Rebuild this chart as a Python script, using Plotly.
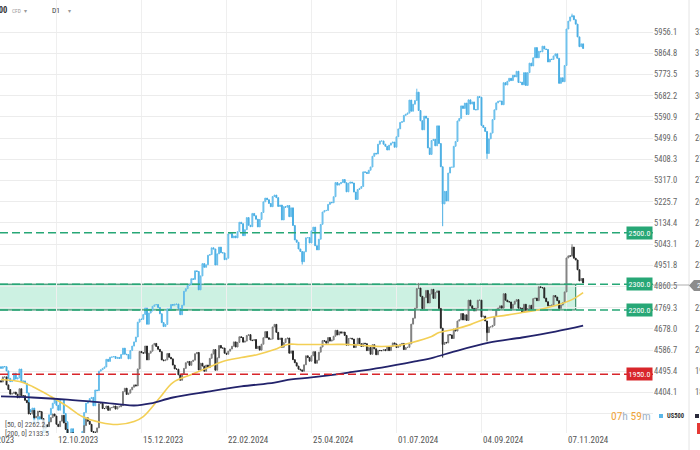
import plotly.graph_objects as go

# ---------------- data ----------------
us500_close = [
    4508,
    4516, 4515, 4497, 4465, 4451, 4457, 4487, 4462, 4467, 4505, 4450, 4454, 4444, 4402, 4330, 4320, 4337, 4274, 4275, 4300, 4288,
    4288, 4229, 4263, 4258, 4308, 4336, 4358, 4377, 4349, 4328, 4373, 4373, 4314, 4278, 4224, 4217, 4248, 4186, 4137, 4117, 4167, 4194,
    4237, 4318, 4358, 4366, 4378, 4383, 4347, 4415, 4412, 4496, 4502, 4508, 4514, 4547, 4538, 4556, 4557, 4559, 4551, 4555, 4551, 4568,
    4595, 4569, 4567, 4549, 4585, 4604, 4622, 4643, 4707, 4720, 4719, 4740, 4768, 4698, 4746, 4755, 4775, 4781, 4783, 4770,
    4743, 4705, 4688, 4697, 4764, 4757, 4783, 4780, 4784, 4785, 4766, 4739, 4780, 4840, 4851, 4865, 4869, 4894, 4891, 4928, 4925, 4846,
    4906, 4959, 4943, 4954, 4995, 4998, 5027, 5022, 4953, 5001, 5030, 5006, 5005, 4976, 4982, 5087, 5089, 5070, 5078, 5070, 5096,
    5137, 5131, 5079, 5105, 5157, 5124, 5118, 5175, 5165, 5150, 5117, 5149, 5179, 5225, 5241, 5234, 5218, 5204, 5248, 5254,
    5243, 5205, 5211, 5147, 5204, 5202, 5209, 5161, 5199, 5123, 5061, 5051, 5022, 5011, 4967, 5010, 5070, 5071, 5048, 5100, 5116, 5036,
    5018, 5064, 5128, 5181, 5187, 5188, 5214, 5223, 5221, 5247, 5308, 5297, 5303, 5308, 5321, 5307, 5268, 5305, 5310, 5306, 5267, 5235, 5278,
    5283, 5291, 5354, 5352, 5347, 5361, 5375, 5421, 5434, 5431, 5473, 5487, 5487, 5473, 5464, 5448, 5469, 5478, 5482, 5460,
    5505, 5539, 5567, 5570, 5597, 5602, 5607, 5663, 5615, 5645, 5661, 5697, 5618, 5574, 5535, 5594, 5585, 5457, 5429, 5489, 5494, 5466, 5552,
    5476, 5376, 5216, 5270, 5229, 5349, 5374, 5374, 5464, 5485, 5573, 5584, 5638, 5627, 5650, 5601, 5664, 5646, 5655, 5622, 5621, 5678,
    5675, 5554, 5545, 5528, 5433, 5496, 5521, 5579, 5621, 5651, 5658, 5659, 5643, 5738, 5728, 5744, 5757, 5747, 5770, 5763, 5787,
    5739, 5740, 5729, 5781, 5726, 5781, 5822, 5810, 5845, 5889, 5845, 5873, 5871, 5895, 5883, 5881, 5827, 5839, 5838, 5853, 5862, 5843, 5735,
    5759, 5742, 5812, 5969, 6003, 6021, 6026, 6009, 5990, 5935, 5893, 5905, 5885,
]
us500_first_open = 4515
us500_wick_high = {225: 5712, 309: 6035}
us500_wick_low = {239: 5120, 163: 4955, 263: 5410}

us2000_close = [
    1920,
    1940, 1940, 1909, 1891, 1873, 1876, 1881, 1873, 1859, 1894, 1867, 1867, 1849, 1840, 1796, 1796, 1810, 1781, 1787, 1807, 1805,
    1778, 1741, 1754, 1747, 1765, 1782, 1796, 1788, 1756, 1747, 1768, 1791, 1761, 1736, 1713, 1702, 1723, 1699, 1671, 1656, 1676, 1682,
    1701, 1751, 1781, 1768, 1756, 1728, 1725, 1725, 1742, 1836, 1837, 1817, 1817, 1827, 1810, 1820, 1821, 1827, 1815, 1824, 1824, 1829,
    1883, 1896, 1872, 1877, 1890, 1900, 1909, 1905, 1971, 2039, 2034, 2032, 2060, 2006, 2032, 2040, 2064, 2070, 2058, 2047,
    2038, 2006, 2003, 2006, 2031, 2016, 2010, 1986, 1971, 1970, 1948, 1927, 1952, 1973, 1995, 2000, 1985, 2000, 2005, 2030, 2035, 1967,
    1993, 1982, 1962, 1986, 1976, 2012, 2029, 2046, 1966, 2014, 2062, 2052, 2052, 2032, 2028, 2040, 2048, 2059, 2076, 2056, 2074,
    2096, 2093, 2075, 2079, 2101, 2104, 2083, 2081, 2085, 2050, 2059, 2044, 2067, 2092, 2116, 2092, 2086, 2087, 2134, 2144,
    2113, 2085, 2091, 2055, 2073, 2088, 2091, 2032, 2041, 2007, 1995, 1982, 1970, 1967, 1962, 1987, 2022, 2015, 2001, 2022, 2038, 1993,
    2005, 2036, 2056, 2081, 2079, 2071, 2093, 2079, 2083, 2098, 2121, 2103, 2115, 2110, 2114, 2101, 2063, 2089, 2090, 2087, 2054, 2067, 2090,
    2069, 2058, 2071, 2069, 2042, 2054, 2028, 2065, 2049, 2026, 2043, 2042, 2042, 2046, 2042, 2056, 2042, 2059, 2072, 2068,
    2054, 2059, 2067, 2070, 2046, 2054, 2055, 2068, 2145, 2168, 2207, 2283, 2285, 2253, 2205, 2248, 2276, 2227, 2262, 2280, 2245, 2268, 2274,
    2206, 2129, 2066, 2074, 2072, 2104, 2103, 2089, 2126, 2118, 2157, 2162, 2186, 2161, 2181, 2159, 2238, 2216, 2206, 2196, 2207, 2238,
    2238, 2173, 2176, 2157, 2112, 2134, 2134, 2140, 2175, 2203, 2207, 2216, 2207, 2263, 2238, 2232, 2231, 2206, 2222, 2234, 2240,
    2207, 2207, 2192, 2222, 2199, 2205, 2218, 2204, 2244, 2246, 2236, 2290, 2287, 2286, 2246, 2232, 2216, 2217, 2219, 2256, 2250, 2236, 2206,
    2219, 2228, 2270, 2402, 2410, 2409, 2444, 2401, 2394, 2356, 2313, 2322, 2305,
]
us2000_first_open = 1925
us2000_wick_high = {226: 2305, 309: 2455}
us2000_wick_low = {239: 2015, 263: 2078}

# moving averages of US2000 (read at sample bars)
ma50_bars = [0, 10, 17, 27, 36, 44, 54, 63, 72, 77, 86, 93, 103, 112, 120, 130, 139, 148, 155, 161, 169, 179, 188,
             196, 206, 215, 222, 233, 237, 245, 254, 264, 272, 282, 291, 300, 309, 315]
ma50_vals = [1930, 1922, 1903, 1864, 1825, 1786, 1763, 1755, 1767, 1786, 1860, 1918, 1949, 1976, 2000, 2015, 2027, 2046, 2066, 2066,
             2066, 2066, 2066, 2062, 2058, 2062, 2073, 2097, 2112, 2124, 2143, 2170, 2178, 2190, 2201, 2217, 2240, 2267]
ma200_bars = [0, 17, 36, 54, 72, 81, 93, 112, 130, 148, 157, 168, 188, 206, 224, 234, 245, 264, 282, 300, 315]
ma200_vals = [1864, 1860, 1852, 1841, 1829, 1837, 1860, 1883, 1903, 1918, 1930, 1938, 1957, 1976, 2000, 2015, 2038, 2073, 2093, 2116, 2139]

# levels (US2000 scale)
zone_low, zone_high = 2200, 2300
zone_end_bar = 311
level_lines = [(2500, "#27a776", "2500.0"), (2300, "#27a776", "2300.0"), (2200, "#27a776", "2200.0"), (1950, "#d8262b", "1950.0")]

# axis ticks
date_tick_bars = [30, 76, 122, 168, 214, 260, 306]
date_tick_text = ["12.10.2023", "15.12.2023", "22.02.2024", "25.04.2024", "01.07.2024", "04.09.2024", "07.11.2024"]
first_date_text = "09.08.2023"
price_ticks = ["5956.1", "5864.8", "5773.5", "5682.2", "5590.9", "5499.6", "5408.3", "5317.0", "5225.7",
               "5134.4", "5043.1", "4951.8", "4860.5", "4769.3", "4678.0", "4586.7", "4495.4", "4404.1"]
price_ticks2 = ["3279.4", "3197.1", "3114.8", "3032.4", "2950.1", "2867.8", "2785.4", "2703.1", "2620.8",
                "2538.1", "2455.7", "2373.4", "", "2208.7", "2126.4", "2044.1", "1961.7", "1879.4"]
price_ticks2_vals = [3279.4, 3197.1, 3114.8, 3032.4, 2950.1, 2867.8, 2785.4, 2703.1, 2620.8,
                     2538.1, 2455.7, 2373.4, 2291.1, 2208.7, 2126.4, 2044.1, 1961.7, 1879.4]
ma_legend = ["[50, 0] 2262.2", "[200, 0] 2133.5"]

# ---------------- figure ----------------
W, H = 700, 450
PLOT_W, PLOT_H = 653, 433
FONT = "Liberation Sans Narrow, Roboto Condensed, Arial Narrow, Roboto, sans-serif"


def build_ohlc(first_open, closes, wick_hi, wick_lo):
    opens = [first_open] + closes[:-1]
    highs = [max(o, c) for o, c in zip(opens, closes)]
    lows = [min(o, c) for o, c in zip(opens, closes)]
    for i, v in wick_hi.items():
        highs[i] = max(highs[i], v)
    for i, v in wick_lo.items():
        lows[i] = min(lows[i], v)
    return opens, highs, lows


fig = go.Figure()

o, h, l = build_ohlc(us2000_first_open, us2000_close, us2000_wick_high, us2000_wick_low)
fig.add_trace(go.Candlestick(
    x=list(range(len(us2000_close))), open=o, high=h, low=l, close=us2000_close, yaxis="y2",
    increasing=dict(line=dict(color="#7a7a7a", width=1), fillcolor="#a6a6a6"),
    decreasing=dict(line=dict(color="#262626", width=1), fillcolor="#262626"),
    whiskerwidth=0, hoverinfo="skip", name="US2000"))

o, h, l = build_ohlc(us500_first_open, us500_close, us500_wick_high, us500_wick_low)
fig.add_trace(go.Candlestick(
    x=list(range(len(us500_close))), open=o, high=h, low=l, close=us500_close, yaxis="y",
    increasing=dict(line=dict(color="#66bdea", width=1), fillcolor="#8fd0f2"),
    decreasing=dict(line=dict(color="#4aaee3", width=1), fillcolor="#4aaee3"),
    whiskerwidth=0, hoverinfo="skip", name="US500"))

fig.add_trace(go.Scatter(x=ma50_bars, y=ma50_vals, yaxis="y2", mode="lines",
                         line=dict(color="#f3cf55", width=1.6, shape="spline", smoothing=1.0), hoverinfo="skip"))
fig.add_trace(go.Scatter(x=ma200_bars, y=ma200_vals, yaxis="y2", mode="lines",
                         line=dict(color="#23236b", width=1.8, shape="spline", smoothing=1.0), hoverinfo="skip"))

shapes = []
# zone rectangle
shapes.append(dict(type="rect", xref="x", yref="y2", x0=-2, x1=zone_end_bar, y0=zone_low, y1=zone_high,
                   fillcolor="rgba(40,195,135,0.24)", line=dict(color="#1f7a55", width=1), layer="below"))
annotations = []
for val, col, txt in level_lines:
    shapes.append(dict(type="line", xref="x domain", yref="y2", x0=0, x1=1, y0=val, y1=val,
                       line=dict(color=col, width=1.6, dash="8px,4px")))
    annotations.append(dict(xref="paper", yref="y2", x=PLOT_W / W, y=val, xanchor="right", yanchor="middle",
                            text=txt, showarrow=False, bgcolor=col, borderpad=1.5,
                            font=dict(family=FONT, size=8, color="white")))

# current price tag / separator (paper coords)
def py(p):
    return (PLOT_H - p) / PLOT_H

shapes.append(dict(type="line", xref="paper", yref="paper", x0=689 / W, x1=689 / W, y0=py(450), y1=py(0),
                   line=dict(color="#e4e4e4", width=1)))
shapes.append(dict(type="line", xref="paper", yref="paper", x0=PLOT_W / W, x1=689 / W, y0=py(285), y1=py(285),
                   line=dict(color="#9a9a9a", width=0.8)))
shapes.append(dict(type="path", xref="paper", yref="paper",
                   path=f"M {689/W} {py(285.5)} L {694/W} {py(280)} L {702/W} {py(280)} L {702/W} {py(291)} L {694/W} {py(291)} Z",
                   fillcolor="#8c8c8c", line=dict(width=0)))
annotations.append(dict(xref="paper", yref="paper", x=695 / W, y=py(285.5), xanchor="left", yanchor="middle",
                        text="2305.0", showarrow=False, font=dict(family=FONT, size=8, color="white")))

# legend squares bottom right
shapes.append(dict(type="rect", xref="paper", yref="paper", x0=659 / W, x1=663 / W, y0=py(418), y1=py(414),
                   fillcolor="#5bb7e8", line=dict(width=0)))
shapes.append(dict(type="rect", xref="paper", yref="paper", x0=695 / W, x1=699 / W, y0=py(418), y1=py(414),
                   fillcolor="#2a2a3a", line=dict(width=0)))
shapes.append(dict(type="rect", xref="paper", yref="paper", x0=697 / W, x1=704 / W, y0=py(434), y1=py(423),
                   fillcolor="#e53935", line=dict(width=0)))
annotations.append(dict(xref="paper", yref="paper", x=665 / W, y=py(416), xanchor="left", yanchor="middle",
                        text="<b>US500</b>", showarrow=False, font=dict(family=FONT, size=6.5, color="#333")))

# countdown
annotations.append(dict(xref="paper", yref="paper", x=PLOT_W / W, y=py(416), xanchor="right", yanchor="middle",
                        text="<span style='color:#f0a53a'>07</span><span style='color:#9fb3c8'>h</span> "
                             "<span style='color:#f0a53a'>59</span><span style='color:#9fb3c8'>m</span>",
                        showarrow=False, font=dict(family=FONT, size=11.5)))

# MA legend bottom-left
for i, txt in enumerate(ma_legend):
    annotations.append(dict(xref="paper", yref="paper", x=4 / W, y=py(424 + 9 * i), xanchor="left", yanchor="middle",
                            text=txt, showarrow=False, bgcolor="rgba(255,255,255,0.75)", borderpad=0,
                            font=dict(family=FONT, size=7.5, color="#555")))

# date labels (left aligned at grid lines)
for b, txt in zip(date_tick_bars, date_tick_text):
    annotations.append(dict(xref="x", yref="paper", x=b, y=py(440), xanchor="left", yanchor="middle",
                            text=txt, showarrow=False, font=dict(family=FONT, size=9, color="#555")))
annotations.append(dict(xref="paper", yref="paper", x=-28.5 / W, y=py(440), xanchor="left", yanchor="middle",
                        text=first_date_text, showarrow=False, font=dict(family=FONT, size=9, color="#555")))

# toolbar
annotations += [
    dict(xref="paper", yref="paper", x=9 / W, y=py(10), xanchor="right", yanchor="middle", text="<b>US500</b>",
         showarrow=False, font=dict(family=FONT, size=8.5, color="#333")),
    dict(xref="paper", yref="paper", x=10 / W, y=py(10.5), xanchor="left", yanchor="middle", text="CFD",
         showarrow=False, font=dict(family=FONT, size=5.5, color="#999")),
    dict(xref="paper", yref="paper", x=22 / W, y=py(10), xanchor="left", yanchor="middle", text="▾",
         showarrow=False, font=dict(family=FONT, size=6, color="#999")),
    dict(xref="paper", yref="paper", x=50 / W, y=py(10), xanchor="left", yanchor="middle", text="D1",
         showarrow=False, font=dict(family=FONT, size=7.5, color="#444")),
    dict(xref="paper", yref="paper", x=66 / W, y=py(10), xanchor="left", yanchor="middle", text="▾",
         showarrow=False, font=dict(family=FONT, size=6, color="#999")),
]

# axis ranges (pixel calibration)
px_per_bar = 1.848
x_range = [-1 / px_per_bar, (PLOT_W - 1) / px_per_bar]
k1 = 360.5 / 1552.0
y1_range = [5956.1 - (PLOT_H - 32) / k1, 5956.1 + 32 / k1]
k2 = 0.2575
y2_range = [2300 - (PLOT_H - 284.2) / k2, 2300 + 284.2 / k2]

fig.update_layout(
    template="none",
    width=W, height=H,
    margin=dict(l=0, r=0, t=0, b=H - PLOT_H, pad=0),
    paper_bgcolor="white", plot_bgcolor="white",
    showlegend=False,
    font=dict(family=FONT, size=9, color="#666"),
    xaxis=dict(domain=[0, PLOT_W / W], range=x_range, tickvals=date_tick_bars, showticklabels=False,
               showgrid=True, gridcolor="#efefef", gridwidth=1, zeroline=False, showline=False, ticks="",
               rangeslider=dict(visible=False), automargin=False, fixedrange=True),
    yaxis=dict(side="right", anchor="x", range=y1_range, tickvals=[float(t) for t in price_ticks] + [4312.8],
               ticktext=price_ticks + [""], showgrid=True, gridcolor="#ececec", gridwidth=1, zeroline=False,
               showline=False, ticks="", tickfont=dict(family=FONT, size=8.5, color="#666"), automargin=False,
               fixedrange=True),
    yaxis2=dict(overlaying="y", side="right", anchor="free", position=694 / W, range=y2_range,
                tickvals=price_ticks2_vals, ticktext=price_ticks2, showgrid=False, zeroline=False, showline=False,
                ticks="", tickfont=dict(family=FONT, size=8.5, color="#666"), automargin=False, fixedrange=True),
    shapes=shapes,
    annotations=annotations,
)

fig.write_html("out.html")
